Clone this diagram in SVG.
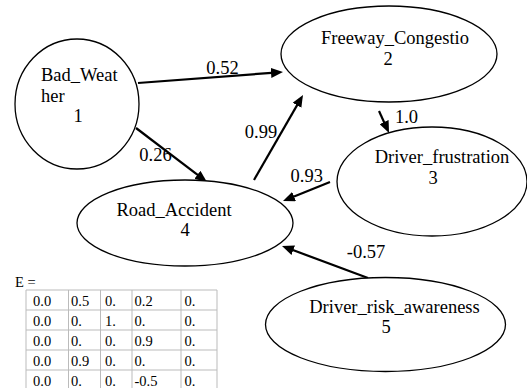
<svg xmlns="http://www.w3.org/2000/svg" width="527" height="388" viewBox="0 0 527 388" font-family="Liberation Serif, serif">
<style>
.node ellipse{fill:#fff;stroke:#000;stroke-width:1.3}
.lbl{font-size:18.5px;fill:#000}
.mid{text-anchor:middle}
.edge line{stroke:#000;stroke-width:2.2;marker-end:url(#ah)}
.tbl line{stroke:#bbb;stroke-width:1}
.cell{font-size:14.5px;fill:#000}
</style>
<defs>
<marker id="ah" markerUnits="userSpaceOnUse" markerWidth="12" markerHeight="10" refX="4" refY="5" orient="auto">
<path d="M0,0 L12,5 L0,10 z" fill="#000"/>
</marker>
</defs>
<rect width="527" height="388" fill="#fff"/>
<g id="connectors" class="edge">
<line x1="138" y1="83" x2="275" y2="72.6"/>
<line x1="136" y1="128" x2="200.6" y2="177.2"/>
<line x1="254" y1="180" x2="299" y2="101.9"/>
<line x1="379" y1="111" x2="385.7" y2="125.7"/>
<line x1="330" y1="182" x2="290.4" y2="198"/>
<line x1="368" y1="278" x2="289.5" y2="248.8"/>
</g>
<g id="edge-labels">
<text class="lbl mid" x="222.5" y="74">0.52</text>
<text class="lbl mid" x="155.5" y="161">0.26</text>
<text class="lbl mid" x="261" y="138">0.99</text>
<text class="lbl mid" x="406.5" y="123">1.0</text>
<text class="lbl mid" x="306.7" y="182">0.93</text>
<text class="lbl mid" x="366" y="258">-0.57</text>
</g>
<g id="n1" class="node">
<ellipse cx="77" cy="104" rx="62" ry="65"/>
<text class="lbl" x="41" y="81">Bad_Weat</text>
<text class="lbl" x="41" y="102">her</text>
<text class="lbl mid" x="78" y="122">1</text>
</g>
<g id="n2" class="node">
<ellipse cx="389" cy="54" rx="108" ry="48"/>
<text class="lbl mid" x="395" y="44">Freeway_Congestio</text>
<text class="lbl mid" x="388" y="65">2</text>
</g>
<g id="n3" class="node">
<ellipse cx="432" cy="181.5" rx="95" ry="54.5"/>
<text class="lbl mid" x="442" y="163">Driver_frustration</text>
<text class="lbl mid" x="433" y="184">3</text>
</g>
<g id="n4" class="node">
<ellipse cx="185" cy="223" rx="108" ry="43"/>
<text class="lbl mid" x="174" y="216">Road_Accident</text>
<text class="lbl mid" x="185" y="236">4</text>
</g>
<g id="n5" class="node">
<ellipse cx="385.5" cy="324.5" rx="120" ry="47"/>
<text class="lbl mid" x="394.5" y="313">Driver_risk_awareness</text>
<text class="lbl mid" x="386" y="333">5</text>
</g>
<g id="matrix">
<text class="cell" x="15" y="286.5">E =</text>
<g class="tbl">
<line x1="26" y1="290" x2="217" y2="290"/>
<line x1="26" y1="310" x2="217" y2="310"/>
<line x1="26" y1="330" x2="217" y2="330"/>
<line x1="26" y1="350" x2="217" y2="350"/>
<line x1="26" y1="370" x2="217" y2="370"/>
<line x1="26" y1="290" x2="26" y2="388"/>
<line x1="68.5" y1="290" x2="68.5" y2="388"/>
<line x1="100.5" y1="290" x2="100.5" y2="388"/>
<line x1="132" y1="290" x2="132" y2="388"/>
<line x1="181" y1="290" x2="181" y2="388"/>
<line x1="217" y1="290" x2="217" y2="388"/>
</g>
<g>
<text class="cell" x="33" y="306">0.0</text><text class="cell" x="71" y="306">0.5</text><text class="cell" x="105" y="306">0.</text><text class="cell" x="134.5" y="306">0.2</text><text class="cell" x="184.5" y="306">0.</text>
<text class="cell" x="33" y="326">0.0</text><text class="cell" x="71" y="326">0.</text><text class="cell" x="105" y="326">1.</text><text class="cell" x="134.5" y="326">0.</text><text class="cell" x="184.5" y="326">0.</text>
<text class="cell" x="33" y="346">0.0</text><text class="cell" x="71" y="346">0.</text><text class="cell" x="105" y="346">0.</text><text class="cell" x="134.5" y="346">0.9</text><text class="cell" x="184.5" y="346">0.</text>
<text class="cell" x="33" y="366">0.0</text><text class="cell" x="71" y="366">0.9</text><text class="cell" x="105" y="366">0.</text><text class="cell" x="134.5" y="366">0.</text><text class="cell" x="184.5" y="366">0.</text>
<text class="cell" x="33" y="386">0.0</text><text class="cell" x="71" y="386">0.</text><text class="cell" x="105" y="386">0.</text><text class="cell" x="134.5" y="386">-0.5</text><text class="cell" x="184.5" y="386">0.</text>
</g>
</g>
</svg>
